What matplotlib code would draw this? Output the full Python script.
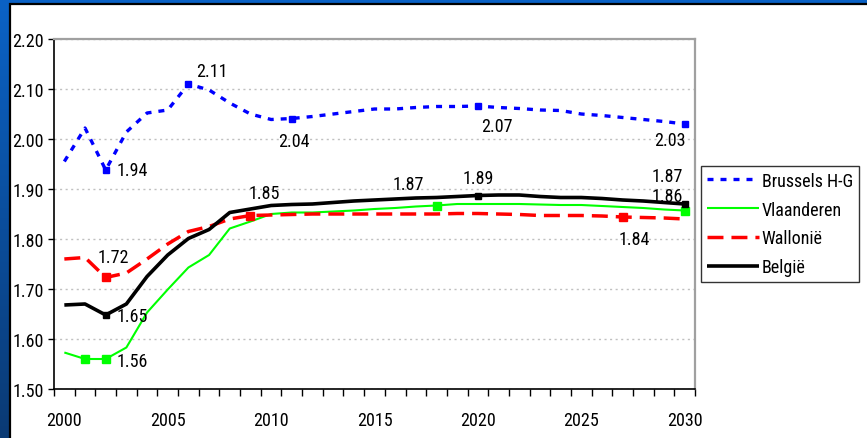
import matplotlib
matplotlib.use("Agg")
import matplotlib.pyplot as plt
import numpy as np
from matplotlib import font_manager
from matplotlib.patches import Rectangle
from matplotlib.colors import LinearSegmentedColormap

# pick a condensed sans if one is installed, else Liberation Sans
FAM, STRETCH = 'Liberation Sans', 'normal'
entries = font_manager.fontManager.ttflist
cands = [e for e in entries if ('Narrow' in e.name or 'Condensed' in e.name) and e.weight in (400, 'normal', 'regular') and e.style == 'normal']
cond = [e for e in entries if e.name in ('Liberation Sans', 'Roboto', 'Noto Sans', 'Open Sans', 'DejaVu Sans')
        and str(e.stretch) in ('condensed', 'semi-condensed', '500', '400', '300')
        and str(e.stretch) not in ('normal',) and e.style == 'normal']
pref = ['Liberation Sans Narrow', 'Arial Narrow', 'Roboto Condensed', 'Open Sans Condensed', 'Noto Sans Condensed']
picked = None
for p in pref:
    for e in cands:
        if e.name == p:
            picked = (e.name, 'normal')
            break
    if picked:
        break
if picked is None and cands:
    picked = (cands[0].name, 'normal')
if picked is None and cond:
    picked = (cond[0].name, 'condensed')
if picked:
    FAM, STRETCH = picked
plt.rcParams['font.family'] = [FAM, 'DejaVu Sans']
plt.rcParams['font.stretch'] = STRETCH

# ---------------- data ----------------
years = list(range(2000, 2031))
series_names = ["Brussels H-G", "Vlaanderen", "Wallonië", "België"]
brussels = [1.955, 2.022, 1.938, 2.014, 2.052, 2.058, 2.110, 2.098, 2.072, 2.050,
            2.039, 2.041, 2.045, 2.050, 2.055, 2.060, 2.060, 2.063, 2.065, 2.065,
            2.066, 2.063, 2.061, 2.058, 2.057, 2.050, 2.047, 2.043, 2.039, 2.035, 2.030]
vlaanderen = [1.573, 1.560, 1.560, 1.583, 1.653, 1.699, 1.743, 1.768, 1.821, 1.835,
              1.850, 1.853, 1.853, 1.855, 1.857, 1.860, 1.862, 1.865, 1.867, 1.870,
              1.870, 1.870, 1.870, 1.869, 1.868, 1.868, 1.866, 1.864, 1.862, 1.859, 1.857]
wallonie = [1.760, 1.763, 1.723, 1.732, 1.760, 1.790, 1.815, 1.825, 1.840, 1.847,
            1.848, 1.849, 1.850, 1.850, 1.850, 1.850, 1.850, 1.850, 1.850, 1.851,
            1.851, 1.850, 1.849, 1.847, 1.847, 1.847, 1.846, 1.844, 1.843, 1.842, 1.840]
belgie = [1.668, 1.670, 1.648, 1.670, 1.725, 1.768, 1.801, 1.819, 1.853, 1.860,
          1.867, 1.869, 1.870, 1.873, 1.876, 1.878, 1.880, 1.882, 1.883, 1.885,
          1.887, 1.888, 1.888, 1.885, 1.883, 1.883, 1.881, 1.878, 1.876, 1.873, 1.870]
marker_years = {
    "Brussels H-G": [2002, 2006, 2011, 2020, 2030],
    "Vlaanderen": [2001, 2002, 2018, 2030],
    "Wallonië": [2002, 2009, 2027],
    "België": [2002, 2020, 2030],
}
# (series, year, text)
value_labels = [
    ("Brussels H-G", 2002, "1.94"), ("Brussels H-G", 2006, "2.11"),
    ("Brussels H-G", 2011, "2.04"), ("Brussels H-G", 2020, "2.07"),
    ("Brussels H-G", 2030, "2.03"),
    ("Vlaanderen", 2002, "1.56"), ("Vlaanderen", 2018, "1.87"), ("Vlaanderen", 2030, "1.86"),
    ("Wallonië", 2002, "1.72"), ("Wallonië", 2009, "1.85"), ("Wallonië", 2027, "1.84"),
    ("België", 2002, "1.65"), ("België", 2020, "1.89"), ("België", 2030, "1.87"),
]
yticks = [1.5, 1.6, 1.7, 1.8, 1.9, 2.0, 2.1, 2.2]
xlabels = [2000, 2005, 2010, 2015, 2020, 2025, 2030]

# ---------------- styling ----------------
values = dict(zip(series_names, [brussels, vlaanderen, wallonie, belgie]))
styles = {
    "Brussels H-G": dict(color="#0000ff", lw=2.4, dashes=(1.8, 2.1), ms=5.0),
    "Vlaanderen": dict(color="#00ff00", lw=1.5, dashes=None, ms=5.6),
    "Wallonië": dict(color="#ff0000", lw=2.5, dashes=(4.6, 2.3), ms=6.4),
    "België": dict(color="#000000", lw=2.6, dashes=None, ms=4.4),
}
# label offsets in pixels (dx, dy up)
offsets = {
    ("Brussels H-G", 2002): (27, 0), ("Brussels H-G", 2006): (23, 13),
    ("Brussels H-G", 2011): (2, -22), ("Brussels H-G", 2020): (19, -20),
    ("Brussels H-G", 2030): (-15, -16),
    ("Vlaanderen", 2002): (27, -2), ("Vlaanderen", 2018): (-28, 22),
    ("Vlaanderen", 2030): (-17, 15),
    ("Wallonië", 2002): (8, 20), ("Wallonië", 2009): (14, 23), ("Wallonië", 2027): (12, -22),
    ("België", 2002): (27, -1), ("België", 2020): (0, 18), ("België", 2030): (-17, 28),
}

W, H = 867, 439
FS = 13
LFS = 13 if FAM != 'Liberation Sans' else 12
fig = plt.figure(figsize=(W / 100, H / 100), dpi=100)

# background gradient + white panel
bg = fig.add_axes([0, 0, 1, 1])
bg.set_axis_off()
cmap = LinearSegmentedColormap.from_list("bg", ["#0b62c6", "#0a3a74"])
grad = np.linspace(0, 1, 256).reshape(-1, 1)
bg.imshow(grad, cmap=cmap, aspect="auto", extent=[0, 1, 0, 1], transform=bg.transAxes)
bg.add_patch(Rectangle((9.5 / W, -0.05), 1.2, (H - 4.5) / H + 0.05, transform=bg.transAxes,
                       facecolor="white", edgecolor="black", lw=1.6, clip_on=False))

ax = fig.add_axes([54 / W, 49 / H, 641 / W, 350 / H])
ax.set_facecolor("white")
idx = {y: i for i, y in enumerate(years)}
xs = np.arange(len(years))
handles = []
for name in series_names:
    st = styles[name]
    mk = [idx[y] for y in marker_years[name]]
    line, = ax.plot(xs, values[name], color=st["color"], lw=st["lw"], marker="s",
                    markevery=mk, ms=st["ms"], mec=st["color"], mfc=st["color"],
                    solid_capstyle="butt", dash_capstyle="butt", clip_on=False, label=name)
    if st["dashes"] is not None:
        line.set_dashes(st["dashes"])
    handles.append(line)

for name, yr, txt in value_labels:
    dx, dy = offsets[(name, yr)]
    ax.annotate(txt, (idx[yr], values[name][idx[yr]]), xytext=(dx, dy),
                textcoords="offset pixels", ha="center", va="center", fontsize=FS,
                color="black", zorder=10)

ax.set_xlim(-0.5, len(years) - 0.5)
ax.set_ylim(yticks[0], yticks[-1])
ax.set_yticks(yticks)
ax.set_yticklabels([f"{v:.2f}" for v in yticks], fontsize=FS)
ax.set_xticks(np.arange(-0.5, len(years), 1.0))
ax.set_xticklabels([])
ax.set_xticks([idx[y] for y in xlabels], [str(y) for y in xlabels], minor=True)
ax.tick_params(axis="x", which="major", direction="out", length=5, width=1, color="black")
ax.tick_params(axis="x", which="minor", length=0, pad=16, labelsize=FS)
ax.tick_params(axis="y", direction="out", length=4.3, width=1, pad=3, labelsize=FS)
ax.yaxis.grid(True, linestyle=(0, (1.5, 2.5)), color="#c0c0c0", lw=1)
ax.set_axisbelow(True)
for s in ["left", "bottom"]:
    ax.spines[s].set_color("black")
    ax.spines[s].set_linewidth(1.2)
for s in ["top", "right"]:
    ax.spines[s].set_color("#a0a0a0")
    ax.spines[s].set_linewidth(1.6)

leg = fig.legend(handles=handles, loc="upper left", bbox_to_anchor=(701 / W, 1 - 167 / H),
                 fontsize=LFS, frameon=True, fancybox=False, handlelength=2.9 * 13 / LFS,
                 handletextpad=0.15, labelspacing=0.6, borderpad=0.32, borderaxespad=0)
leg.get_frame().set_edgecolor("black")
leg.get_frame().set_linewidth(1.0)
for lh in leg.legend_handles:
    lh.set_marker("")

fig.savefig("out.png", dpi=100)
